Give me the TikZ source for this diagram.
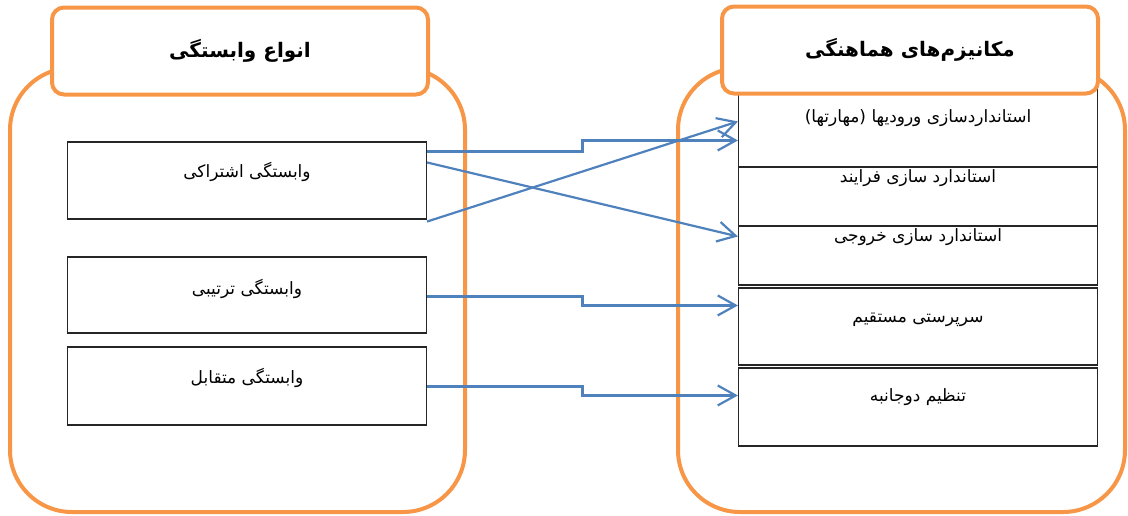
\documentclass[tikz,border=0pt]{standalone}
\usepackage{fontspec}
\newfontfamily\arabicfont[Script=Arabic]{DejaVu Sans}
\TeXXeTstate=1
\usetikzlibrary{arrows.meta, calc}
\definecolor{frameorange}{HTML}{F79646}
\definecolor{linkblue}{HTML}{4F81BD}

\begin{document}
\begin{tikzpicture}[x=1pt,y=-1pt]

% Define styles
\tikzstyle{frame}=[draw=frameorange, line width=4pt, rounded corners=62pt]
\tikzstyle{header}=[draw=frameorange, fill=white, line width=4pt, rounded corners=12pt, minimum width=376pt, minimum height=87pt, inner sep=0pt, font=\arabicfont\bfseries\fontsize{20}{24}\selectfont]
\tikzstyle{itembox}=[draw=black!85, line width=1.1pt, minimum width=359pt, inner sep=0pt]
\tikzstyle{itemtext}=[inner sep=0pt, font=\arabicfont\fontsize{17}{20}\selectfont]
\tikzstyle{link}=[draw=linkblue, line width=2.2pt, -{Straight Barb[length=18pt,width=20pt]}]

\useasboundingbox (0,0) rectangle (1128,515);

% Outer frames
\draw[frame] (10,68) rectangle (465,512);
\draw[frame] (678,68) rectangle (1125,512);

% Kinds of dependence (left)
\foreach \n/\y/\h/\ty/\t in {
  l1/180.5/77/172/{وابستگی اشتراکی},
  l2/295/76/289/{وابستگی ترتیبی},
  l3/386/78/378/{وابستگی متقابل}} {
  \node[itembox, minimum height=\h pt] (\n) at (247,\y) {};
  \node[itemtext] (\n-t) at (247,\ty) {\beginR\t\endR};
}

% Coordination mechanisms (right)
\foreach \n/\y/\h/\ty/\t in {
  m1/127.5/79/118/{استانداردسازی ورودیها (مهارتها)},
  m2/196.5/59/178/{استاندارد سازی فرایند},
  m3/255.5/59/237/{استاندارد سازی خروجی},
  m4/326.5/77/320/{سرپرستی مستقیم},
  m5/407/78/397/{تنظیم دوجانبه}} {
  \node[itembox, minimum height=\h pt] (\n) at (918,\y) {};
  \node[itemtext] (\n-t) at (918,\ty) {\beginR\t\endR};
}

% Headers
\node[header] (kinds) at (240,51) {\beginR انواع وابستگی\endR};
\node[header] (mechs) at (910,50) {\beginR مکانیزم‌های هماهنگی\endR};

% Links
\coordinate (s1) at ([yshift=-10pt]l1.north east);
\coordinate (s2) at ([yshift=-21pt]l1.north east);
\coordinate (s3) at ([yshift=-2pt]l1.south east);
\coordinate (s4) at ([yshift=-40pt]l2.north east);
\coordinate (s5) at ([yshift=-40pt]l3.north east);
\coordinate (e1) at ([yshift=-53pt]m1.north west);
\coordinate (e2) at ([yshift=-11pt]m3.north west);
\coordinate (e3) at ([yshift=-34pt]m1.north west);
\coordinate (e4) at ([yshift=-18pt]m4.north west);
\coordinate (e5) at ([yshift=-28pt]m5.north west);

\draw[link] (s1) -| ($(s1)!0.5!(e1)$) |- (e1);
\draw[link] (s2) -- (e2);
\draw[link] (s3) -- (e3);
\draw[link] (s4) -| ($(s4)!0.5!(e4)$) |- (e4);
\draw[link] (s5) -| ($(s5)!0.5!(e5)$) |- (e5);

\end{tikzpicture}
\end{document}
